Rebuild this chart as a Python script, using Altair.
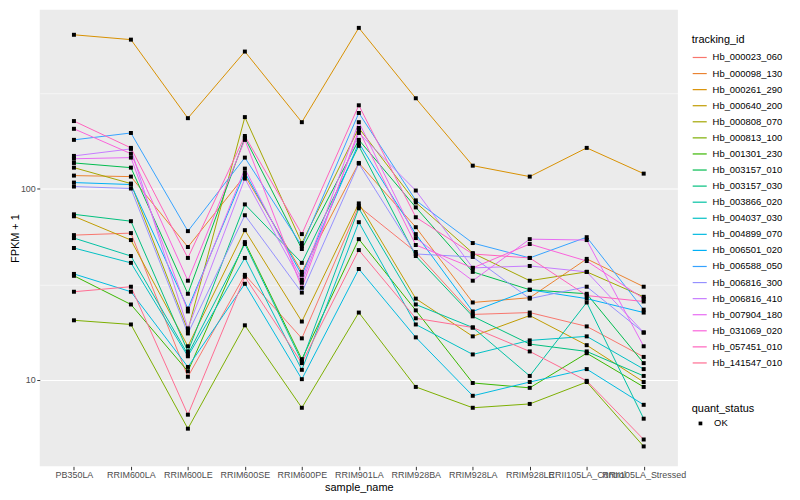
import altair as alt
import pandas as pd

samples = ["PB350LA", "RRIM600LA", "RRIM600LE", "RRIM600SE", "RRIM600PE", "RRIM901LA",
           "RRIM928BA", "RRIM928LA", "RRIM928LE", "RRII105LA_Control", "RRII105LA_Stressed"]

tracking_ids = ["Hb_000023_060", "Hb_000098_130", "Hb_000261_290", "Hb_000640_200",
                "Hb_000808_070", "Hb_000813_100", "Hb_001301_230", "Hb_003157_010",
                "Hb_003157_030", "Hb_003866_020", "Hb_004037_030", "Hb_004899_070",
                "Hb_006501_020", "Hb_006588_050", "Hb_006816_300", "Hb_006816_410",
                "Hb_007904_180", "Hb_031069_020", "Hb_057451_010", "Hb_141547_010"]

hb_000023_060 = [57.1, 58.5, 10.4, 35.4, 16.5, 80.7, 46.6, 22.0, 22.5, 19.05, 13.2]
hb_000098_130 = [116.8, 115.4, 49.5, 116.8, 36.7, 136, 62.8, 25.4, 26.9, 42.9, 30.7]
hb_000261_290 = [635, 599, 233, 519, 222, 690, 296, 131.6, 115.4, 163, 119.6]
hb_000640_200 = [71.6, 53.8, 15.0, 60.6, 20.2, 83.6, 26.6, 16.9, 21.7, 15.2, 9.76]
hb_000808_070 = [128.5, 106.1, 18.2, 236, 51.9, 207, 84.6, 46.0, 33.0, 36.7, 27.2]
hb_000813_100 = [20.5, 19.5, 5.57, 19.3, 7.16, 22.5, 9.2, 7.16, 7.5, 9.76, 4.50]
hb_001301_230 = [35.0, 24.8, 11.1, 52.5, 12.85, 54.4, 23.1, 9.65, 9.1, 13.8, 9.2]
hb_003157_010 = [136, 128.5, 28.2, 184, 48.3, 179.5, 79.7, 36.7, 29.6, 28.2, 12.25]
hb_003157_030 = [73.3, 67.5, 14.1, 82.6, 40.9, 167, 44.4, 21.5, 15.4, 14.1, 10.5]
hb_003866_020 = [55.1, 44.4, 13.6, 51.3, 12.5, 78.8, 24.8, 18.8, 10.5, 25.4, 6.28]
hb_004037_030 = [48.9, 40.9, 13.3, 43.4, 11.3, 66.7, 19.5, 13.6, 16.1, 16.9, 11.4]
hb_004899_070 = [35.8, 28.9, 11.7, 31.8, 10.1, 38.0, 16.7, 8.27, 9.76, 11.4, 7.42]
hb_006501_020 = [107.4, 104.9, 23.6, 121, 35.4, 173, 57.8, 22.8, 29.6, 26.6, 22.5]
hb_006588_050 = [179.5, 195, 59.9, 145, 50.1, 248, 86.7, 51.9, 43.4, 55.7, 23.3]
hb_006816_300 = [102.4, 100, 17.5, 72.5, 28.6, 135, 45.5, 43.9, 26.6, 30.7, 17.7]
hb_006816_410 = [148, 161, 18.6, 112.7, 32.2, 195, 97.6, 38.5, 39.4, 36.7, 17.7]
hb_007904_180 = [143, 145, 22.8, 127, 33.4, 222, 55.1, 33.0, 54.4, 53.8, 15.0]
hb_031069_020 = [205, 152, 33.0, 179.5, 30.3, 202, 50.7, 38.5, 51.3, 41.8, 26.6]
hb_057451_010 = [225, 163, 43.4, 188, 57.8, 272, 70.8, 45.5, 43.4, 27.6, 25.7]
hb_141547_010 = [28.9, 30.7, 6.59, 34.6, 12.25, 47.7, 21.0, 18.8, 14.1, 9.9, 4.89]

series = [hb_000023_060, hb_000098_130, hb_000261_290, hb_000640_200, hb_000808_070,
          hb_000813_100, hb_001301_230, hb_003157_010, hb_003157_030, hb_003866_020,
          hb_004037_030, hb_004899_070, hb_006501_020, hb_006588_050, hb_006816_300,
          hb_006816_410, hb_007904_180, hb_031069_020, hb_057451_010, hb_141547_010]

colors = ["#F8766D", "#EA8331", "#D89000", "#C09B00", "#A3A500", "#7CAE00", "#39B600",
          "#00BB4E", "#00BF7D", "#00C1A3", "#00BFC4", "#00BAE0", "#00B0F6", "#35A2FF",
          "#9590FF", "#C77CFF", "#E76BF3", "#FA62DB", "#FF62BC", "#FF6C91"]

rows = []
for tid, vals in zip(tracking_ids, series):
    for s, v in zip(samples, vals):
        rows.append({"tracking_id": tid, "sample_name": s, "fpkm1": v, "quant_status": "OK"})
df = pd.DataFrame(rows)

FONT = "Liberation Sans"
major_test = "datum.value == 10 || datum.value == 100"

x_enc = alt.X("sample_name:N", sort=samples,
              scale=alt.Scale(type="point", padding=0.6),
              axis=alt.Axis(title="sample_name", labelAngle=0, labelOverlap=False,
                            labelBound=False, labelFlush=False, domain=False,
                            tickColor="#333333", tickSize=3.5, labelPadding=1,
                            labelColor="#4D4D4D", labelFontSize=9, titlePadding=2,
                            gridColor="white", gridWidth=1.1))
y_enc = alt.Y("fpkm1:Q",
              scale=alt.Scale(type="log", domain=[3.54, 857], nice=False),
              axis=alt.Axis(title="FPKM + 1", values=[3.162, 10, 31.62, 100, 316.2],
                            labelExpr="(" + major_test + ") ? format(datum.value, 'd') : ''",
                            domain=False, tickColor="#333333", tickSize=3,
                            tickOpacity={"condition": {"test": major_test, "value": 1}, "value": 0},
                            gridColor="white",
                            gridWidth={"condition": {"test": major_test, "value": 1.1}, "value": 0.55},
                            labelColor="#4D4D4D", labelFontSize=9, labelPadding=1.5,
                            titlePadding=0))

lines = alt.Chart(df).mark_line(strokeWidth=1).encode(
    x=x_enc, y=y_enc,
    color=alt.Color("tracking_id:N",
                    scale=alt.Scale(domain=tracking_ids, range=colors),
                    legend=alt.Legend(title="tracking_id", orient="none", legendX=657, legendY=24,
                                      symbolType="stroke", symbolSize=200, symbolStrokeWidth=1.2,
                                      labelFontSize=9.5, titleFontSize=11, titleFontWeight="normal",
                                      titlePadding=5, rowPadding=3.2, labelOffset=5)),
    detail="tracking_id:N",
)

points = alt.Chart(df).mark_point(filled=True, color="black", size=16, opacity=1).encode(
    x=x_enc, y=y_enc,
    shape=alt.Shape("quant_status:N",
                    scale=alt.Scale(domain=["OK"], range=["square"]),
                    legend=alt.Legend(title="quant_status", orient="none", legendX=657, legendY=396,
                                      symbolSize=14, symbolFillColor="black", symbolStrokeColor="black",
                                      labelFontSize=9.5, titleFontSize=11, titleFontWeight="normal",
                                      titlePadding=5, labelOffset=9, symbolOffset=4)),
)

chart = alt.layer(lines, points).properties(
    width=643, height=460,
    autosize=alt.AutoSizeParams(type="none"),
    padding={"left": 32, "top": 0, "right": 115, "bottom": 28},
    background="white",
).configure_view(
    fill="#EBEBEB", stroke=None
).configure_axis(
    labelFont=FONT, titleFont=FONT, titleFontSize=11, titleFontWeight="normal", titleColor="black"
).configure_legend(
    labelFont=FONT, titleFont=FONT, labelColor="black", titleColor="black"
)

chart.save("out.html", embed_options={"renderer": "svg", "actions": False})
